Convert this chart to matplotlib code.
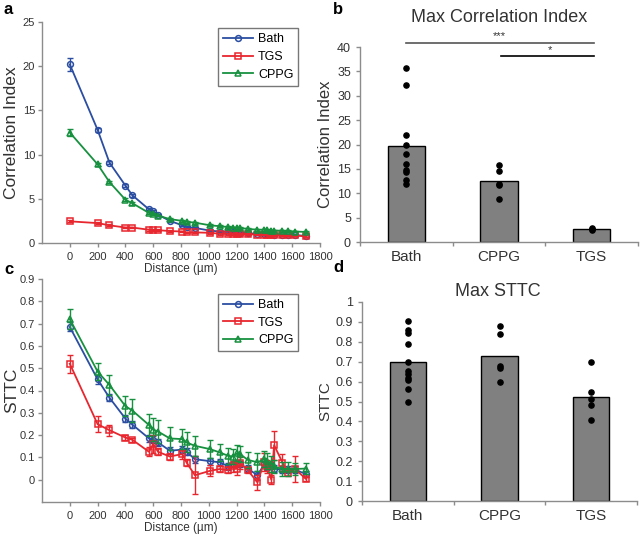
import numpy as np
import matplotlib
matplotlib.use('Agg')
import matplotlib.pyplot as plt

plt.rcParams['font.family'] = ['Liberation Sans', 'DejaVu Sans']

# 距离 (µm)
distance = [0, 200, 285, 400, 450, 570, 600, 635, 720, 810, 840, 900, 1010, 1080,
            1140, 1175, 1205, 1225, 1280, 1350, 1400, 1420, 1450, 1470, 1530, 1570, 1620, 1700]

# panel a: correlation index vs distance
ci_bath = [20.2, 12.8, 9.1, 6.5, 5.4, 3.8, 3.6, 3.2, 2.5, 2.0, 1.8, 1.7, 1.4, 1.3,
           1.25, 1.2, 1.2, 1.15, 1.1, 1.05, 1.05, 1.0, 1.0, 0.95, 0.95, 0.9, 0.9, 0.8]
ci_bath_err = [0.7, 0.25, 0.2, 0.15, 0.15, 0.12, 0.1, 0.1, 0.1, 0.1, 0.1, 0.1, 0.08, 0.08,
               0.08, 0.08, 0.08, 0.08, 0.08, 0.08, 0.08, 0.08, 0.08, 0.08, 0.08, 0.08, 0.08, 0.08]
ci_tgs = [2.45, 2.25, 2.0, 1.75, 1.75, 1.5, 1.45, 1.45, 1.35, 1.3, 1.2, 1.2, 1.15, 1.05,
          1.05, 1.05, 1.05, 1.0, 1.0, 0.95, 0.95, 0.95, 0.9, 0.9, 0.9, 0.85, 0.85, 0.75]
ci_tgs_err = [0.1] * len(distance)
ci_cppg = [12.5, 8.9, 6.9, 4.9, 4.5, 3.4, 3.25, 3.1, 2.7, 2.5, 2.4, 2.3, 2.0, 1.9,
           1.8, 1.75, 1.7, 1.7, 1.6, 1.5, 1.5, 1.45, 1.4, 1.4, 1.4, 1.35, 1.3, 1.25]
ci_cppg_err = [0.35, 0.2, 0.15, 0.15, 0.15, 0.12, 0.1, 0.1, 0.1, 0.1, 0.1, 0.1, 0.1, 0.1,
               0.1, 0.1, 0.1, 0.1, 0.1, 0.1, 0.1, 0.1, 0.1, 0.1, 0.1, 0.1, 0.1, 0.1]

# panel c: STTC vs distance
sttc_bath = [0.685, 0.45, 0.368, 0.274, 0.247, 0.185, 0.18, 0.167, 0.13, 0.135, 0.125, 0.092, 0.083, 0.078,
             0.06, 0.07, 0.075, 0.07, 0.05, 0.02, 0.07, 0.06, 0.065, 0.05, 0.045, 0.045, 0.045, 0.025]
sttc_bath_err = [0.02, 0.02, 0.015, 0.015, 0.015, 0.015, 0.015, 0.015, 0.015, 0.015, 0.015, 0.015, 0.015, 0.015,
                 0.015, 0.015, 0.015, 0.015, 0.015, 0.02, 0.015, 0.015, 0.015, 0.015, 0.015, 0.015, 0.015, 0.015]
sttc_tgs = [0.52, 0.249, 0.222, 0.189, 0.179, 0.125, 0.16, 0.125, 0.104, 0.115, 0.077, 0.02, 0.04, 0.048,
            0.043, 0.06, 0.05, 0.075, 0.043, -0.012, 0.08, 0.06, 0.0, 0.155, 0.077, 0.03, 0.048, 0.003]
sttc_tgs_err = [0.04, 0.035, 0.025, 0.01, 0.01, 0.02, 0.04, 0.015, 0.015, 0.02, 0.015, 0.085, 0.025, 0.015,
                0.015, 0.025, 0.03, 0.025, 0.015, 0.035, 0.04, 0.03, 0.02, 0.065, 0.04, 0.015, 0.06, 0.01]
sttc_cppg = [0.72, 0.485, 0.425, 0.33, 0.31, 0.245, 0.225, 0.216, 0.185, 0.182, 0.167, 0.152, 0.137, 0.122,
             0.107, 0.104, 0.119, 0.115, 0.089, 0.078, 0.092, 0.085, 0.07, 0.06, 0.048, 0.048, 0.048, 0.05]
sttc_cppg_err = [0.045, 0.04, 0.045, 0.045, 0.05, 0.05, 0.05, 0.05, 0.05, 0.045, 0.045, 0.045, 0.04, 0.04,
                 0.035, 0.035, 0.035, 0.035, 0.035, 0.04, 0.035, 0.035, 0.035, 0.03, 0.03, 0.03, 0.025, 0.025]

# panel b / d: 各组最大值
groups = ['Bath', 'CPPG', 'TGS']
max_ci_mean = [19.6, 12.5, 2.6]
max_ci_points = [[35.6, 32.2, 22.0, 19.8, 18.1, 16.0, 14.8, 14.4, 12.7, 11.8],
                 [15.7, 14.6, 12.0, 11.6, 8.8],
                 [2.9, 2.6, 2.4]]
max_sttc_mean = [0.70, 0.73, 0.525]
max_sttc_points = [[0.905, 0.86, 0.845, 0.79, 0.70, 0.655, 0.64, 0.62, 0.61, 0.565, 0.50],
                   [0.88, 0.84, 0.68, 0.67, 0.60],
                   [0.70, 0.55, 0.515, 0.48, 0.405]]

c_bath = '#2b4ea2'
c_tgs = '#e8262e'
c_cppg = '#17913f'
spine_c = '#8c8c8c'
text_c = '#333333'

W, H = 640, 537
fig = plt.figure(figsize=(W / 100, H / 100), dpi=100)


def ax_at(l, t, r, b):
    return fig.add_axes([l / W, 1 - b / H, (r - l) / W, (b - t) / H])


def style_axes(ax):
    for s in ['top', 'right']:
        ax.spines[s].set_visible(False)
    for s in ['left', 'bottom']:
        ax.spines[s].set_color(spine_c)
        ax.spines[s].set_linewidth(1.0)
    ax.tick_params(colors=spine_c, labelcolor=text_c, labelsize=9, length=3, width=1)


def line_panel(ax, series, leg_top):
    for y, e, c, m, lab in series:
        ax.errorbar(distance, y, yerr=e, fmt='none', ecolor=c, elinewidth=1,
                    capsize=2, capthick=1)
        ax.plot(distance, y, color=c, marker=m, ms=4.2, mfc='none', mew=1.1,
                lw=1.3, label=lab)
    ax.set_xlim(-200, 1800)
    ax.set_xticks(range(0, 1801, 200))
    ax.set_xlabel('Distance (µm)', fontsize=8.5, color=text_c, labelpad=1)
    style_axes(ax)
    ax.tick_params(axis='x', labelsize=8)
    ax.tick_params(axis='y', labelsize=8, pad=2)
    ax.yaxis.set_label_coords(-0.083, 0.5)
    leg = ax.legend(loc='upper right', bbox_to_anchor=(0.945, leg_top),
                    fontsize=9, fancybox=False, edgecolor='#555555', handlelength=2.4,
                    borderpad=0.4, labelspacing=0.45, handletextpad=0.4)
    leg.get_frame().set_linewidth(1.0)


# a
ax_a = ax_at(42, 22, 320, 243)
line_panel(ax_a, [(ci_bath, ci_bath_err, c_bath, 'o', 'Bath'),
                  (ci_tgs, ci_tgs_err, c_tgs, 's', 'TGS'),
                  (ci_cppg, ci_cppg_err, c_cppg, '^', 'CPPG')], 1.0)
ax_a.set_ylim(0, 25)
ax_a.set_yticks(range(0, 26, 5))
ax_a.set_ylabel('Correlation Index', fontsize=12.5, color=text_c)

# c
ax_c = ax_at(42, 279, 320, 502)
line_panel(ax_c, [(sttc_bath, sttc_bath_err, c_bath, 'o', 'Bath'),
                  (sttc_tgs, sttc_tgs_err, c_tgs, 's', 'TGS'),
                  (sttc_cppg, sttc_cppg_err, c_cppg, '^', 'CPPG')], 0.96)
ax_c.set_ylim(-0.1, 0.9)
ax_c.set_yticks(np.arange(0, 0.91, 0.1))
ax_c.set_yticklabels(['0'] + ['%.1f' % v for v in np.arange(0.1, 0.91, 0.1)])
ax_c.set_ylabel('STTC', fontsize=12.5, color=text_c)


def bar_panel(ax, means, points):
    xs = np.arange(len(groups))
    ax.bar(xs, means, width=0.4, color='#808080', edgecolor='black', linewidth=1, zorder=2)
    for x, pts in zip(xs, points):
        ax.scatter([x] * len(pts), pts, s=14, color='black', zorder=3)
    ax.set_xlim(-0.5, 2.5)
    ax.set_xticks([-0.5, 0.5, 1.5, 2.5])
    ax.set_xticklabels([])
    ax.set_xticks(xs, minor=True)
    ax.set_xticklabels(groups, minor=True, fontsize=11, color=text_c)
    style_axes(ax)
    ax.tick_params(axis='x', which='minor', length=0, pad=6)


# b
ax_b = ax_at(360, 47, 638, 242)
bar_panel(ax_b, max_ci_mean, max_ci_points)
ax_b.set_ylim(0, 40)
ax_b.set_yticks(range(0, 41, 5))
ax_b.set_ylabel('Correlation Index', fontsize=12, color=text_c)
ax_b.yaxis.set_label_coords(-0.097, 0.5)
fig.text(499 / W, 1 - 17 / H, 'Max Correlation Index', fontsize=13, color=text_c,
         ha='center', va='center')
ax_b.plot([0, 2.02], [40.9, 40.9], color='#555555', lw=1.2, clip_on=False)
ax_b.text(1.0, 41.3, '***', ha='center', va='bottom', fontsize=8, color=text_c)
ax_b.plot([1.02, 2.02], [38.1, 38.1], color='black', lw=1.2, clip_on=False)
ax_b.text(1.55, 38.4, '*', ha='center', va='bottom', fontsize=8, color=text_c)

# d
ax_d = ax_at(362, 302, 637, 501)
bar_panel(ax_d, max_sttc_mean, max_sttc_points)
ax_d.set_ylim(0, 1)
ax_d.set_yticks(np.arange(0, 1.01, 0.1))
ax_d.set_yticklabels(['0'] + ['%.1f' % v for v in np.arange(0.1, 0.95, 0.1)] + ['1'])
ax_d.set_ylabel('STTC', fontsize=11, color=text_c)
ax_d.yaxis.set_label_coords(-0.109, 0.5)
fig.text(498 / W, 1 - 292 / H, 'Max STTC', fontsize=13, color=text_c, ha='center', va='center')

# 面板标签
for lab, x, y in [('a', 4, 10), ('b', 333, 10), ('c', 4, 270), ('d', 333, 268)]:
    fig.text(x / W, 1 - y / H, lab, fontsize=12, fontweight='bold', va='center', ha='left')

fig.savefig('out.png', dpi=100)
